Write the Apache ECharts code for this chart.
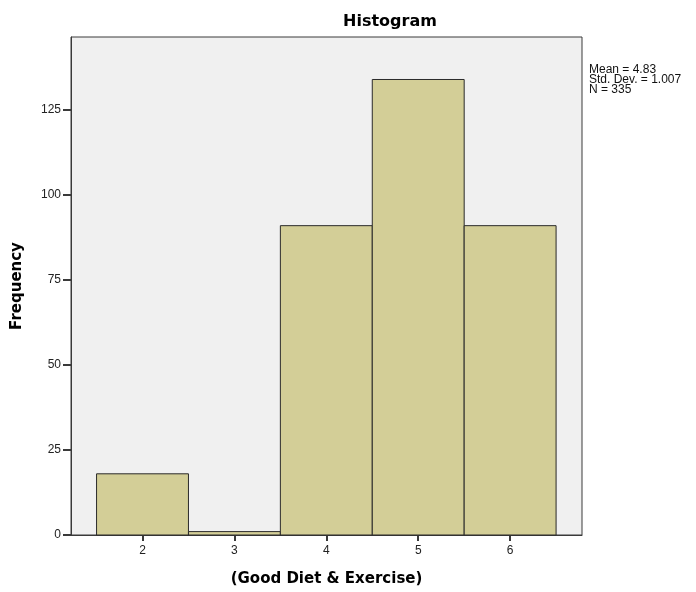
<!DOCTYPE html>
<html>
<head>
<meta charset="utf-8">
<script src="https://cdn.jsdelivr.net/npm/echarts@6/dist/echarts.min.js"></script>
<style>
  html, body { margin: 0; padding: 0; background: #ffffff; }
  #chart { width: 696px; height: 592px; }
</style>
</head>
<body>
<div id="chart"></div>
<script>
  // 直方图数据（每个分箱的中心值与频数）
  var bins = [2, 3, 4, 5, 6];
  var frequency = [18, 1, 91, 134, 91];
  var yTicks = [0, 25, 50, 75, 100, 125];
  var statLines = ['Mean = 4.83', 'Std. Dev. = 1.007', 'N = 335'];

  var myChart = echarts.init(document.getElementById('chart'));
  var font = 'Arial, "Liberation Sans", sans-serif';
  var boldFont = '"DejaVu Sans", Verdana, sans-serif';

  var option = {
    animation: false,
    title: {
      text: 'Histogram',
      left: 385,
      top: 9,
      textAlign: 'center',
      textStyle: { fontFamily: boldFont, fontSize: 16, fontWeight: 'bold', color: '#000' }
    },
    grid: {
      left: 71, right: 114, top: 37, bottom: 57,
      show: true,
      backgroundColor: '#f0f0f0',
      borderColor: '#3a3a3a',
      borderWidth: 1
    },
    xAxis: {
      type: 'value',
      min: 1.222,
      max: 6.782,
      name: '(Good Diet & Exercise)',
      nameLocation: 'middle',
      nameGap: 37,
      nameTextStyle: { fontFamily: boldFont, fontSize: 15, fontWeight: 'bold', color: '#000' },
      splitLine: { show: false },
      axisLine: { lineStyle: { color: '#3a3a3a' } },
      axisTick: { show: true, inside: false, length: 6, customValues: bins, lineStyle: { color: '#3a3a3a', width: 2 } },
      axisLabel: { customValues: bins, fontFamily: font, fontSize: 12, color: '#222', margin: 10 }
    },
    yAxis: {
      type: 'value',
      min: 0,
      max: 146.5,
      name: 'Frequency',
      nameLocation: 'middle',
      nameGap: 46,
      nameTextStyle: { fontFamily: boldFont, fontSize: 15, fontWeight: 'bold', color: '#000' },
      splitLine: { show: false },
      axisLine: { show: true, lineStyle: { color: '#3a3a3a' } },
      axisTick: { show: true, inside: false, length: 8, customValues: yTicks, lineStyle: { color: '#3a3a3a', width: 2 } },
      axisLabel: { customValues: yTicks, fontFamily: font, fontSize: 12, color: '#222', margin: 10 }
    },
    graphic: [{
      type: 'text',
      left: 589,
      top: 64,
      style: {
        text: statLines.join('\n'),
        font: '12px ' + font,
        lineHeight: 10,
        fill: '#111'
      }
    }],
    series: [{
      type: 'custom',
      data: bins.map(function (b, i) { return [b, frequency[i]]; }),
      renderItem: function (params, api) {
        var x = api.value(0);
        var y = api.value(1);
        var p0 = api.coord([x - 0.5, y]);
        var p1 = api.coord([x + 0.5, 0]);
        return {
          type: 'rect',
          shape: { x: p0[0], y: p0[1], width: p1[0] - p0[0], height: p1[1] - p0[1] },
          style: { fill: '#d3ce97', stroke: '#2a2a2a', lineWidth: 1 }
        };
      }
    }]
  };
  myChart.setOption(option);
</script>
</body>
</html>
